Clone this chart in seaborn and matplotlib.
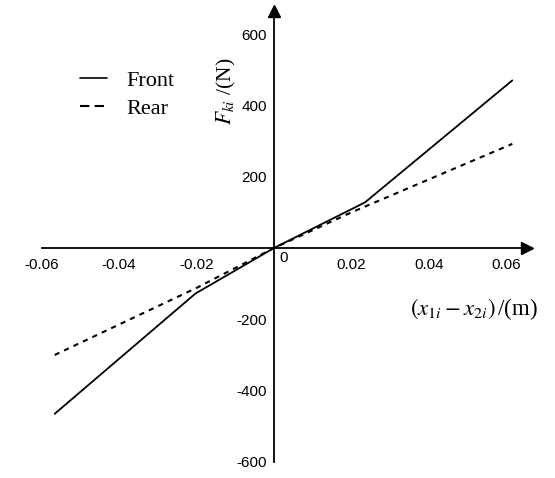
import matplotlib
matplotlib.use("Agg")
import matplotlib.pyplot as plt
from matplotlib.lines import Line2D
import seaborn as sns
import pandas as pd

# ---- data ----
front_x = [-0.0566, -0.0203, 0.0, 0.0235, 0.0615]
front_y = [-465, -128, 0, 128, 470]
rear_x = [-0.0566, -0.020, 0.0, 0.020, 0.0615]
rear_y = [-300, -112, 0, 100, 292]
xticks = [-0.06, -0.04, -0.02, 0.02, 0.04, 0.06]
xtick_labels = ["-0.06", "-0.04", "-0.02", "0.02", "0.04", "0.06"]
yticks = [-600, -400, -200, 200, 400, 600]
ytick_labels = ["-600", "-400", "-200", "200", "400", "600"]
series_names = ["Front", "Rear"]

sns.set_theme(style="white")
plt.rcParams["mathtext.fontset"] = "stix"
tick_font = ["Liberation Sans Narrow", "Liberation Sans", "DejaVu Sans"]
serif_font = ["Liberation Serif", "DejaVu Serif"]

fig = plt.figure(figsize=(5.55, 4.78), dpi=100)
ax = fig.add_axes([0, 0, 1, 1])
ax.set_facecolor("white")

# scale: x pixel = 274 + 3875*x ; y pixel = 248 - 0.3566*y
ax.set_xlim(-274 / 3875, 281 / 3875)
ax.set_ylim(-230 / 0.3566, 248 / 0.3566)

df_front = pd.DataFrame({"x": front_x, "y": front_y})
df_rear = pd.DataFrame({"x": rear_x, "y": rear_y})
sns.lineplot(data=df_front, x="x", y="y", ax=ax, color="black", lw=1.3,
             sort=False, estimator=None)
sns.lineplot(data=df_rear, x="x", y="y", ax=ax, color="black", lw=1.5,
             sort=False, estimator=None, linestyle=(0, (2.5, 2.5)))
ax.set_xlabel("")
ax.set_ylabel("")

# axes through origin
for s in ["top", "right"]:
    ax.spines[s].set_visible(False)
ax.spines["left"].set_position(("data", 0))
ax.spines["bottom"].set_position(("data", 0))
ax.spines["left"].set_bounds(-600, 645)
ax.spines["bottom"].set_bounds(-0.0598, 0.0635)
for s in ["left", "bottom"]:
    ax.spines[s].set_color("black")
    ax.spines[s].set_linewidth(1.3)

# arrow heads
ax.plot([0], [664], marker="^", color="black", markersize=9, clip_on=False)
ax.plot([0.0653], [0], marker=">", color="black", markersize=9, clip_on=False)

ax.set_xticks(xticks)
ax.set_xticklabels(xtick_labels, family=tick_font, fontsize=11)
ax.set_yticks(yticks)
ax.set_yticklabels(ytick_labels, family=tick_font, fontsize=11)
ax.tick_params(axis="both", direction="in", length=5, width=1.2, color="black",
               labelcolor="black")
ax.tick_params(axis="x", pad=7)
ax.tick_params(axis="y", pad=5)
ax.grid(False)

ax.text(0.0013, -9, "0", family=tick_font, fontsize=11, color="black",
        ha="left", va="top")

ax.text(-0.0122, 440, r"$F_{ki}$ /(N)", rotation=90, fontsize=15.5,
        color="black", ha="center", va="center", family=serif_font)
ax.text(0.0515, -172, r"$(x_{1i}-x_{2i})\,$/(m)", fontsize=16.5, color="black",
        ha="center", va="center", family=serif_font)

handles = [Line2D([], [], color="black", lw=1.2),
           Line2D([], [], color="black", lw=1.5, linestyle=(0, (4.5, 2.5)))]
leg = ax.legend(handles, series_names, loc="upper left",
                bbox_to_anchor=(80 / 555, 1 - 70 / 478),
                bbox_transform=fig.transFigure, frameon=False,
                borderpad=0, borderaxespad=0, handlelength=1.2,
                handletextpad=0.9, labelspacing=0.35,
                prop={"family": serif_font, "size": 16})
for t in leg.get_texts():
    t.set_color("black")

fig.savefig("out.png", dpi=100, facecolor="white")
